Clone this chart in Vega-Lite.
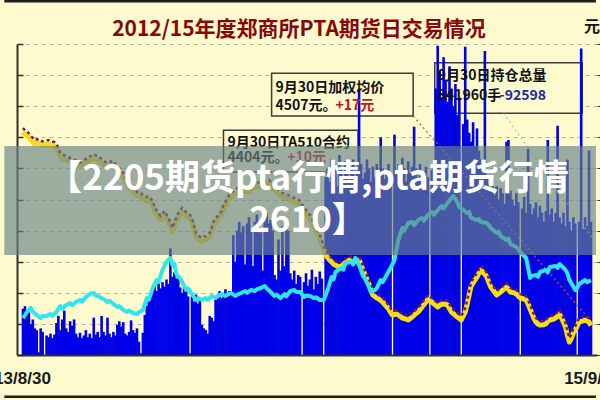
{
"$schema": "https://vega.github.io/schema/vega-lite/v6.json",
"width": 580, "height": 311,
"autosize": "none",
"padding": {"left": 17, "top": 44, "right": 3, "bottom": 45},
"background": "#fdfacd",
"config": {"view": {"stroke": null}, "font": "Noto Sans CJK SC"},
"title": {"text": "2012/15年度郑商所PTA期货日交易情况", "fontSize": 21, "fontWeight": "bold", "color": "#860808", "font": "Noto Sans CJK SC", "anchor": "middle", "frame": "group", "baseline": "middle", "offset": -51, "dx": -8},
"datasets": {
"vol": [{"i":0,"v":52},{"i":1,"v":55},{"i":2,"v":50},{"i":3,"v":48},{"i":4,"v":35},{"i":5,"v":40},{"i":6,"v":30},{"i":7,"v":28},{"i":8,"v":3},{"i":9,"v":30},
{"i":10,"v":26},{"i":11,"v":0},{"i":12,"v":22},{"i":13,"v":20},{"i":14,"v":24},{"i":15,"v":19},{"i":16,"v":23},{"i":17,"v":36},{"i":18,"v":44},{"i":19,"v":28},
{"i":20,"v":40},{"i":21,"v":50},{"i":22,"v":30},{"i":23,"v":26},{"i":24,"v":38},{"i":25,"v":33},{"i":26,"v":40},{"i":27,"v":24},{"i":28,"v":20},{"i":29,"v":25},
{"i":30,"v":19},{"i":31,"v":22},{"i":32,"v":28},{"i":33,"v":20},{"i":34,"v":24},{"i":35,"v":19},{"i":36,"v":42},{"i":37,"v":23},{"i":38,"v":26},{"i":39,"v":20},
{"i":40,"v":44},{"i":41,"v":26},{"i":42,"v":22},{"i":43,"v":42},{"i":44,"v":24},{"i":45,"v":20},{"i":46,"v":26},{"i":47,"v":22},{"i":48,"v":34},{"i":49,"v":38},
{"i":50,"v":32},{"i":51,"v":37},{"i":52,"v":24},{"i":53,"v":22},{"i":54,"v":26},{"i":55,"v":39},{"i":56,"v":28},{"i":57,"v":25},{"i":58,"v":30},{"i":59,"v":15},
{"i":60,"v":2},{"i":61,"v":25},{"i":62,"v":45},{"i":63,"v":55},{"i":64,"v":62},{"i":65,"v":70},{"i":66,"v":74},{"i":67,"v":78},{"i":68,"v":72},{"i":69,"v":80},
{"i":70,"v":75},{"i":71,"v":82},{"i":72,"v":77},{"i":73,"v":85},{"i":74,"v":80},{"i":75,"v":120},{"i":76,"v":88},{"i":77,"v":93},{"i":78,"v":86},{"i":79,"v":90},
{"i":80,"v":76},{"i":81,"v":70},{"i":82,"v":78},{"i":83,"v":72},{"i":84,"v":66},{"i":85,"v":2},{"i":86,"v":66},{"i":87,"v":60},{"i":88,"v":68},{"i":89,"v":58},
{"i":90,"v":64},{"i":91,"v":34},{"i":92,"v":30},{"i":93,"v":28},{"i":94,"v":24},{"i":95,"v":44},{"i":96,"v":42},{"i":97,"v":38},{"i":98,"v":62},{"i":99,"v":68},
{"i":100,"v":72},{"i":101,"v":64},{"i":102,"v":70},{"i":103,"v":74},{"i":104,"v":66},{"i":105,"v":72},{"i":106,"v":70},{"i":107,"v":135},{"i":108,"v":105},{"i":109,"v":140},
{"i":110,"v":150},{"i":111,"v":138},{"i":112,"v":145},{"i":113,"v":102},{"i":114,"v":148},{"i":115,"v":155},{"i":116,"v":142},{"i":117,"v":100},{"i":118,"v":150},{"i":119,"v":158},
{"i":120,"v":145},{"i":121,"v":138},{"i":122,"v":95},{"i":123,"v":150},{"i":124,"v":160},{"i":125,"v":148},{"i":126,"v":152},{"i":127,"v":140},{"i":128,"v":90},{"i":129,"v":85},
{"i":130,"v":130},{"i":131,"v":95},{"i":132,"v":145},{"i":133,"v":100},{"i":134,"v":150},{"i":135,"v":140},{"i":136,"v":92},{"i":137,"v":85},{"i":138,"v":95},{"i":139,"v":80},
{"i":140,"v":90},{"i":141,"v":88},{"i":142,"v":0},{"i":143,"v":82},{"i":144,"v":92},{"i":145,"v":78},{"i":146,"v":85},{"i":147,"v":96},{"i":148,"v":74},{"i":149,"v":88},
{"i":150,"v":80},{"i":151,"v":94},{"i":152,"v":86},{"i":153,"v":0},{"i":154,"v":200},{"i":155,"v":210},{"i":156,"v":195},{"i":157,"v":220},{"i":158,"v":205},{"i":159,"v":215},
{"i":160,"v":190},{"i":161,"v":225},{"i":162,"v":210},{"i":163,"v":200},{"i":164,"v":218},{"i":165,"v":205},{"i":166,"v":195},{"i":167,"v":212},{"i":168,"v":220},{"i":169,"v":200},
{"i":170,"v":208},{"i":171,"v":300},{"i":172,"v":215},{"i":173,"v":198},{"i":174,"v":205},{"i":175,"v":220},{"i":176,"v":210},{"i":177,"v":195},{"i":178,"v":212},{"i":179,"v":200},
{"i":180,"v":215},{"i":181,"v":205},{"i":182,"v":245},{"i":183,"v":210},{"i":184,"v":198},{"i":185,"v":205},{"i":186,"v":215},{"i":187,"v":200},{"i":188,"v":0},{"i":189,"v":248},
{"i":190,"v":205},{"i":191,"v":215},{"i":192,"v":200},{"i":193,"v":222},{"i":194,"v":210},{"i":195,"v":195},{"i":196,"v":218},{"i":197,"v":205},{"i":198,"v":212},{"i":199,"v":257},
{"i":200,"v":210},{"i":201,"v":198},{"i":202,"v":215},{"i":203,"v":205},{"i":204,"v":190},{"i":205,"v":212},{"i":206,"v":200},{"i":207,"v":0},{"i":208,"v":208},{"i":209,"v":215},
{"i":210,"v":300},{"i":211,"v":348},{"i":212,"v":320},{"i":213,"v":290},{"i":214,"v":335},{"i":215,"v":310},{"i":216,"v":285},{"i":217,"v":325},{"i":218,"v":300},{"i":219,"v":280},
{"i":220,"v":305},{"i":221,"v":270},{"i":222,"v":290},{"i":223,"v":0},{"i":224,"v":260},{"i":225,"v":347},{"i":226,"v":265},{"i":227,"v":250},{"i":228,"v":240},{"i":229,"v":262},
{"i":230,"v":235},{"i":231,"v":255},{"i":232,"v":230},{"i":233,"v":220},{"i":234,"v":215},{"i":235,"v":342},{"i":236,"v":200},{"i":237,"v":192},{"i":238,"v":185},{"i":239,"v":198},
{"i":240,"v":180},{"i":241,"v":190},{"i":242,"v":175},{"i":243,"v":188},{"i":244,"v":182},{"i":245,"v":170},{"i":246,"v":240},{"i":247,"v":242},{"i":248,"v":185},{"i":249,"v":175},
{"i":250,"v":168},{"i":251,"v":182},{"i":252,"v":172},{"i":253,"v":0},{"i":254,"v":165},{"i":255,"v":178},{"i":256,"v":160},{"i":257,"v":232},{"i":258,"v":170},{"i":259,"v":158},
{"i":260,"v":165},{"i":261,"v":172},{"i":262,"v":155},{"i":263,"v":168},{"i":264,"v":160},{"i":265,"v":150},{"i":266,"v":162},{"i":267,"v":242},{"i":268,"v":158},{"i":269,"v":165},
{"i":270,"v":150},{"i":271,"v":160},{"i":272,"v":258},{"i":273,"v":155},{"i":274,"v":148},{"i":275,"v":160},{"i":276,"v":145},{"i":277,"v":220},{"i":278,"v":150},{"i":279,"v":140},
{"i":280,"v":155},{"i":281,"v":148},{"i":282,"v":0},{"i":283,"v":150},{"i":284,"v":345},{"i":285,"v":142},{"i":286,"v":155},{"i":287,"v":145},{"i":288,"v":230},{"i":289,"v":150}],
"oi": [{"i":0,"o":41.6},{"i":2,"o":48.4},{"i":4,"o":52.9},{"i":5,"o":49},{"i":7,"o":45},{"i":9,"o":41.6},{"i":10,"o":44},{"i":12,"o":43.9},{"i":14,"o":46.1},{"i":15,"o":44},{"i":17,"o":48.4},{"i":19,"o":55.1},{"i":20,"o":52},{"i":22,"o":56.3},{"i":24,"o":58.5},{"i":25,"o":56},{"i":27,"o":59.6},{"i":29,"o":61.9},{"i":30,"o":60},{"i":32,"o":65.3},{"i":34,"o":68.6},{"i":36,"o":69.8},{"i":37,"o":67},{"i":38,"o":66.4},{"i":40,"o":64},{"i":41,"o":63},{"i":43,"o":59.6},{"i":44,"o":61},{"i":46,"o":57.4},{"i":48,"o":54},{"i":49,"o":55},{"i":51,"o":50.6},{"i":53,"o":48.4},{"i":54,"o":50},{"i":56,"o":47.3},{"i":58,"o":46.1},{"i":59,"o":48},{"i":61,"o":50.6},{"i":63,"o":64.1},{"i":64,"o":62},{"i":66,"o":75.4},{"i":68,"o":84.4},{"i":69,"o":82},{"i":71,"o":95.7},{"i":73,"o":104.7},{"i":75,"o":109.2},{"i":76,"o":101.3},{"i":77,"o":103},{"i":78,"o":91.2},{"i":80,"o":86},{"i":81,"o":82.2},{"i":83,"o":73.2},{"i":84,"o":75},{"i":86,"o":68.6},{"i":88,"o":61.9},{"i":89,"o":64},{"i":91,"o":61.9},{"i":93,"o":64.1},{"i":94,"o":62},{"i":96,"o":66.4},{"i":98,"o":64.1},{"i":99,"o":66},{"i":101,"o":68.6},{"i":103,"o":66.4},{"i":104,"o":68},{"i":106,"o":69.8},{"i":108,"o":66.4},{"i":109,"o":68},{"i":111,"o":69.8},{"i":113,"o":72},{"i":114,"o":70},{"i":116,"o":73.2},{"i":118,"o":72},{"i":119,"o":74},{"i":121,"o":75.4},{"i":123,"o":77.7},{"i":124,"o":75},{"i":126,"o":70.9},{"i":128,"o":66.4},{"i":129,"o":68},{"i":131,"o":64.1},{"i":133,"o":68.6},{"i":134,"o":66},{"i":136,"o":72},{"i":138,"o":73.2},{"i":139,"o":71},{"i":141,"o":70.9},{"i":143,"o":65.3},{"i":144,"o":67},{"i":146,"o":66.4},{"i":148,"o":64.1},{"i":149,"o":65},{"i":151,"o":61.9},{"i":153,"o":61.9},{"i":155,"o":73.2},{"i":157,"o":87.8},{"i":158,"o":85},{"i":159,"o":93.4},{"i":162,"o":97.9},{"i":163,"o":96},{"i":164,"o":103.5},{"i":167,"o":104.7},{"i":168,"o":102},{"i":169,"o":109.2},{"i":171,"o":101.3},{"i":173,"o":88.9},{"i":174,"o":86},{"i":176,"o":76.5},{"i":177,"o":70.9},{"i":179,"o":73},{"i":180,"o":75.4},{"i":182,"o":84.4},{"i":183,"o":82},{"i":185,"o":90},{"i":187,"o":97.9},{"i":189,"o":106.9},{"i":191,"o":129.4},{"i":193,"o":142.9},{"i":194,"o":140},{"i":196,"o":148.6},{"i":198,"o":149.7},{"i":199,"o":146},{"i":201,"o":151.9},{"i":203,"o":154.2},{"i":204,"o":151},{"i":206,"o":157.6},{"i":208,"o":160.9},{"i":209,"o":158},{"i":211,"o":163.2},{"i":213,"o":167.7},{"i":214,"o":165},{"i":216,"o":171},{"i":218,"o":176.7},{"i":219,"o":178.9},{"i":221,"o":172.2},{"i":222,"o":166.5},{"i":224,"o":163.2},{"i":226,"o":159.8},{"i":227,"o":161},{"i":228,"o":154.2},{"i":231,"o":151.9},{"i":232,"o":153},{"i":233,"o":149.7},{"i":236,"o":148.6},{"i":237,"o":146},{"i":238,"o":142.9},{"i":241,"o":137.3},{"i":242,"o":139},{"i":243,"o":133.9},{"i":246,"o":129.4},{"i":247,"o":131},{"i":248,"o":124.9},{"i":251,"o":121.5},{"i":252,"o":119},{"i":253,"o":115.9},{"i":256,"o":109.2},{"i":258,"o":86.7},{"i":259,"o":89},{"i":261,"o":90},{"i":262,"o":88},{"i":263,"o":93.4},{"i":266,"o":95.7},{"i":267,"o":93},{"i":268,"o":99},{"i":271,"o":100.2},{"i":272,"o":98},{"i":273,"o":102.4},{"i":276,"o":95.7},{"i":277,"o":92},{"i":278,"o":84.4},{"i":281,"o":73.2},{"i":282,"o":76},{"i":283,"o":79.9},{"i":286,"o":84.4},{"i":287,"o":82},{"i":289,"o":84.2}],
"price": [{"i":0,"p":7617},{"i":1,"p":7580},{"i":2,"p":7569},{"i":3,"p":7530},{"i":4,"p":7489},{"i":5,"p":7460},{"i":6,"p":7424},{"i":8,"p":7440},{"i":10,"p":7400},{"i":11,"p":7408},{"i":13,"p":7424},{"i":14,"p":7400},{"i":16,"p":7392},{"i":17,"p":7360},{"i":18,"p":7300},{"i":19,"p":7215},{"i":20,"p":7190},{"i":22,"p":7167},{"i":23,"p":7150},{"i":24,"p":7135},{"i":26,"p":7110},{"i":28,"p":7087},{"i":29,"p":7060},{"i":31,"p":7103},{"i":33,"p":7135},{"i":34,"p":7160},{"i":36,"p":7199},{"i":37,"p":7180},{"i":38,"p":7167},{"i":40,"p":7120},{"i":41,"p":7087},{"i":43,"p":7055},{"i":44,"p":7070},{"i":46,"p":7087},{"i":47,"p":7040},{"i":48,"p":7006},{"i":50,"p":6940},{"i":51,"p":6894},{"i":53,"p":6765},{"i":54,"p":6720},{"i":56,"p":6653},{"i":58,"p":6588},{"i":59,"p":6600},{"i":61,"p":6540},{"i":63,"p":6508},{"i":64,"p":6520},{"i":66,"p":6444},{"i":67,"p":6331},{"i":68,"p":6290},{"i":70,"p":6203},{"i":71,"p":6240},{"i":72,"p":6283},{"i":73,"p":6230},{"i":74,"p":6170},{"i":75,"p":6100},{"i":76,"p":6010},{"i":77,"p":6090},{"i":78,"p":6180},{"i":79,"p":6251},{"i":80,"p":6300},{"i":81,"p":6331},{"i":82,"p":6290},{"i":84,"p":6251},{"i":85,"p":6220},{"i":86,"p":6170},{"i":87,"p":6050},{"i":88,"p":5929},{"i":90,"p":5870},{"i":91,"p":5849},{"i":92,"p":5870},{"i":93,"p":5881},{"i":95,"p":5929},{"i":96,"p":6020},{"i":97,"p":6122},{"i":99,"p":6200},{"i":101,"p":6283},{"i":102,"p":6380},{"i":104,"p":6492},{"i":105,"p":6550},{"i":107,"p":6604},{"i":109,"p":6650},{"i":111,"p":6685},{"i":113,"p":6660},{"i":115,"p":6653},{"i":116,"p":6700},{"i":118,"p":6733},{"i":120,"p":6740},{"i":122,"p":6765},{"i":124,"p":6770},{"i":125,"p":6781},{"i":127,"p":6730},{"i":128,"p":6685},{"i":130,"p":6620},{"i":132,"p":6572},{"i":134,"p":6560},{"i":135,"p":6540},{"i":137,"p":6510},{"i":138,"p":6492},{"i":140,"p":6470},{"i":141,"p":6444},{"i":143,"p":6331},{"i":145,"p":6270},{"i":146,"p":6219},{"i":148,"p":6100},{"i":149,"p":6042},{"i":150,"p":5970},{"i":151,"p":5897},{"i":152,"p":5810},{"i":153,"p":5720},{"i":154,"p":5640},{"i":155,"p":5600},{"i":156,"p":5559},{"i":157,"p":5530},{"i":158,"p":5495},{"i":160,"p":5460},{"i":161,"p":5447},{"i":162,"p":5470},{"i":163,"p":5495},{"i":165,"p":5540},{"i":166,"p":5559},{"i":167,"p":5540},{"i":168,"p":5527},{"i":170,"p":5550},{"i":171,"p":5559},{"i":172,"p":5480},{"i":173,"p":5399},{"i":175,"p":5250},{"i":176,"p":5174},{"i":177,"p":5080},{"i":178,"p":4997},{"i":180,"p":4950},{"i":181,"p":4932},{"i":183,"p":4884},{"i":185,"p":4810},{"i":186,"p":4772},{"i":187,"p":4720},{"i":188,"p":4675},{"i":190,"p":4690},{"i":191,"p":4675},{"i":192,"p":4650},{"i":193,"p":4627},{"i":195,"p":4610},{"i":196,"p":4595},{"i":197,"p":4620},{"i":198,"p":4643},{"i":200,"p":4700},{"i":201,"p":4723},{"i":202,"p":4760},{"i":203,"p":4804},{"i":205,"p":4880},{"i":206,"p":4932},{"i":207,"p":4910},{"i":208,"p":4884},{"i":210,"p":4830},{"i":211,"p":4804},{"i":212,"p":4830},{"i":213,"p":4852},{"i":215,"p":4850},{"i":216,"p":4836},{"i":217,"p":4780},{"i":218,"p":4723},{"i":220,"p":4670},{"i":221,"p":4643},{"i":222,"p":4620},{"i":223,"p":4595},{"i":225,"p":4720},{"i":226,"p":4852},{"i":227,"p":5000},{"i":228,"p":5141},{"i":230,"p":5240},{"i":231,"p":5286},{"i":232,"p":5350},{"i":233,"p":5399},{"i":235,"p":5330},{"i":236,"p":5286},{"i":237,"p":5200},{"i":238,"p":5125},{"i":240,"p":5040},{"i":241,"p":4997},{"i":242,"p":5020},{"i":243,"p":5045},{"i":245,"p":5100},{"i":246,"p":5125},{"i":247,"p":5090},{"i":248,"p":5045},{"i":250,"p":5030},{"i":251,"p":5013},{"i":252,"p":4980},{"i":253,"p":4949},{"i":255,"p":4930},{"i":256,"p":4916},{"i":257,"p":4850},{"i":258,"p":4772},{"i":260,"p":4620},{"i":261,"p":4563},{"i":262,"p":4530},{"i":263,"p":4514},{"i":265,"p":4520},{"i":266,"p":4531},{"i":267,"p":4570},{"i":268,"p":4595},{"i":270,"p":4610},{"i":271,"p":4627},{"i":272,"p":4660},{"i":273,"p":4691},{"i":275,"p":4560},{"i":276,"p":4482},{"i":277,"p":4350},{"i":278,"p":4241},{"i":279,"p":4300},{"i":280,"p":4390},{"i":281,"p":4434},{"i":282,"p":4500},{"i":283,"p":4563},{"i":285,"p":4580},{"i":286,"p":4595},{"i":288,"p":4560},{"i":289,"p":4507}],
"boxes": [{"i":126.5,"i2":198.5,"y1":317,"y2":269},{"i":209.5,"i2":284.5,"y1":329,"y2":272},{"i":102,"i2":170.5,"y1":253,"y2":206}],
"notes": [{"i":128.5,"v":300.5,"t":"9月30日加权均价","k":"note"},{"i":128.5,"v":280,"t":"4507元。","k":"note"},{"i":159,"v":280,"t":"+17元","k":"up"},{"i":211,"v":314,"t":"9月30日持仓总量","k":"note"},{"i":211,"v":291.5,"t":"841960手","k":"note"},{"i":242.5,"v":291.5,"t":"-92598","k":"down"},{"i":104,"v":238.6,"t":"9月30日TA510合约","k":"note"},{"i":104,"v":221.7,"t":"4404元。","k":"note"},{"i":134.5,"v":221.7,"t":"+10元","k":"up"}],
"leaders": [{"i":198.5,"y1":269,"i2":289.5,"y2":37,"k":"price"},{"i":244.5,"y1":272,"i2":289.5,"y2":132,"k":"oi"}],
"frame": [{"i":-9.5,"i2":291.5,"y1":398,"k":"top"},{"i":-9.5,"i2":291.5,"y1":-47,"k":"bottom"}],
"unit": [{"i":289.5,"v":369,"t":"元"}],
"banner": [{"i":-9.5,"i2":291.5,"y1":235.2,"y2":112.5}],
"bannerText": [{"i":145,"v":198,"t":"【2205期货pta行情,pta期货行情"},{"i":145,"v":151,"t":"2610】"}]
},
"encoding": {
 "x": {"field": "i", "type": "quantitative", "scale": {"domain": [-0.5, 289.5], "nice": false, "zero": false},
   "axis": {"title": null, "values": [-0.5, 289.5], "labelExpr": "datum.value < 100 ? '13/8/30' : '15/9/30'", "labelFlush": false, "labelOverlap": false, "ticks": false, "tickSize": 0, "grid": false, "domainColor": "#303030", "domainWidth": 2, "labelFont": "Liberation Sans", "labelFontWeight": "bold", "labelFontSize": 17, "labelColor": "#1a1a1a", "labelBaseline": "middle", "labelPadding": 23, "zindex": 1}}
},
"layer": [
{"data": {"name": "boxes"},
 "mark": {"type": "rect", "fill": "#fdfacd", "stroke": "#3a3a3a", "strokeWidth": 1.5},
 "encoding": {
  "x2": {"field": "i2"},
  "y": {"field": "y1", "type": "quantitative", "scale": {"domain": [0, 350], "nice": false}, "axis": null},
  "y2": {"field": "y2"}}},
{"data": {"name": "vol"},
 "mark": {"type": "bar", "color": "#0000e8", "width": 2.6},
 "encoding": {
  "y": {"field": "v", "type": "quantitative", "scale": {"domain": [0, 350], "nice": false},
    "axis": {"title": null, "orient": "left", "values": [0, 35, 70, 105, 140, 175, 210, 245, 280, 315, 350], "labels": false, "ticks": true, "tickSize": -6, "tickColor": "#303030", "tickWidth": 1.5, "domainColor": "#303030", "domainWidth": 2, "grid": true, "gridColor": "#b4b4a4", "gridDash": [4, 4], "gridWidth": 1}}}},
{"data": {"name": "leaders"},
 "mark": {"type": "rule", "strokeDash": [2, 3], "strokeWidth": 1.2},
 "encoding": {
  "x2": {"field": "i2"},
  "y": {"field": "y1", "type": "quantitative", "scale": {"domain": [0, 350], "nice": false}, "axis": null},
  "y2": {"field": "y2"},
  "color": {"field": "k", "type": "nominal", "scale": {"domain": ["note", "up", "down", "price", "oi"], "range": ["#111111", "#c0142a", "#1c2a9c", "#d8503a", "#8fd9b0"]}, "legend": null}}},
{"data": {"name": "price"},
 "mark": {"type": "line", "color": "#f5df14", "strokeWidth": 5, "yOffset": 2, "strokeJoin": "round"},
 "encoding": {
  "y": {"field": "p", "type": "quantitative", "scale": {"domain": [4000, 9000], "nice": false, "zero": false},
    "axis": {"title": null, "orient": "right", "values": [4000, 4500, 5000, 5500, 6000, 6500, 7000, 7500, 8000, 8500, 9000], "labels": false, "domain": false, "grid": false, "ticks": true, "tickSize": 5, "tickColor": "#303030"}}}},
{"data": {"name": "price"},
 "mark": {"type": "line", "color": "#7d1747", "strokeWidth": 2.5, "strokeDash": [3, 3], "yOffset": -2},
 "encoding": {
  "y": {"field": "p", "type": "quantitative", "scale": {"domain": [4000, 9000], "nice": false, "zero": false}, "axis": null}}},
{"data": {"name": "oi"},
 "mark": {"type": "line", "color": "#2ee6f0", "strokeWidth": 4, "strokeJoin": "round"},
 "encoding": {
  "y": {"field": "o", "type": "quantitative", "scale": {"domain": [0, 350], "nice": false}, "axis": null}}},
{"data": {"name": "notes"},
 "mark": {"type": "text", "align": "left", "baseline": "middle", "font": "Noto Sans CJK SC", "fontWeight": "bold", "fontSize": 14},
 "encoding": {
  "y": {"field": "v", "type": "quantitative", "scale": {"domain": [0, 350], "nice": false}, "axis": null},
  "text": {"field": "t"},
  "color": {"field": "k", "type": "nominal", "scale": {"domain": ["note", "up", "down", "price", "oi"], "range": ["#111111", "#c0142a", "#1c2a9c", "#d8503a", "#8fd9b0"]}, "legend": null}}},
{"data": {"name": "unit"},
 "mark": {"type": "text", "align": "center", "baseline": "middle", "font": "Noto Sans CJK SC", "fontWeight": "bold", "fontSize": 16, "color": "#111111"},
 "encoding": {
  "y": {"field": "v", "type": "quantitative", "scale": {"domain": [0, 350], "nice": false}, "axis": null},
  "text": {"field": "t"}}},
{"data": {"name": "banner"},
 "mark": {"type": "rect", "fill": "#6a8485", "opacity": 0.66},
 "encoding": {
  "x2": {"field": "i2"},
  "y": {"field": "y1", "type": "quantitative", "scale": {"domain": [0, 350], "nice": false}, "axis": null},
  "y2": {"field": "y2"}}},
{"data": {"name": "bannerText"},
 "mark": {"type": "text", "align": "center", "baseline": "middle", "font": "Noto Sans CJK SC", "fontWeight": "bold", "fontSize": 35, "color": "#ffffff"},
 "encoding": {
  "y": {"field": "v", "type": "quantitative", "scale": {"domain": [0, 350], "nice": false}, "axis": null},
  "text": {"field": "t"}}},
{"data": {"name": "frame"},
 "mark": {"type": "rule", "color": "#1e1e1e", "strokeWidth": 2.5},
 "encoding": {
  "x2": {"field": "i2"},
  "y": {"field": "y1", "type": "quantitative", "scale": {"domain": [0, 350], "nice": false}, "axis": null}}}
],
"resolve": {"scale": {"y": "independent"}}
}
